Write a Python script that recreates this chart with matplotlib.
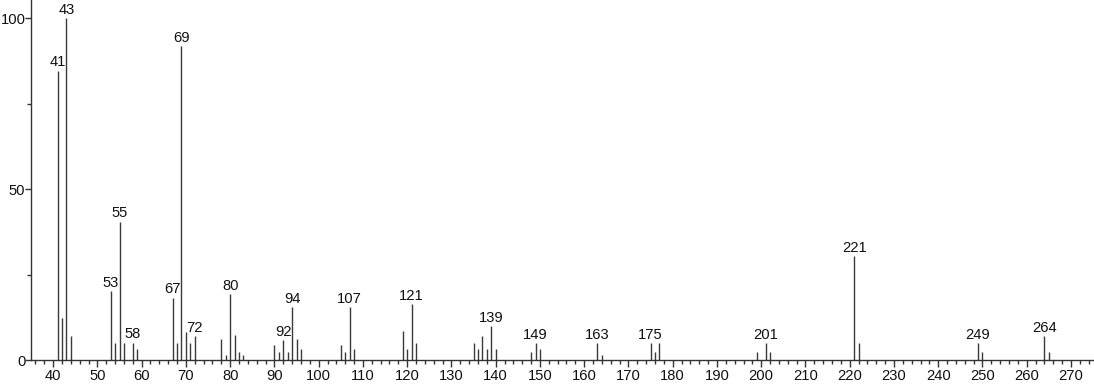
import matplotlib
matplotlib.use("Agg")
import matplotlib.pyplot as plt
from matplotlib.ticker import MultipleLocator

plt.rcParams['font.family'] = ['Liberation Sans', 'DejaVu Sans']

# m/z and relative intensity
mz = [41, 42, 43, 44, 53, 54, 55, 56, 58, 59, 67, 68, 69, 70, 71, 72,
      78, 79, 80, 81, 82, 83, 90, 91, 92, 93, 94, 95, 96,
      105, 106, 107, 108, 119, 120, 121, 122,
      135, 136, 137, 138, 139, 140, 148, 149, 150, 163, 164,
      175, 176, 177, 199, 201, 202, 221, 222, 249, 250, 264, 265]
intensity = [84.6, 12.2, 100.0, 7.0, 20.2, 5.1, 40.4, 5.1, 5.1, 3.2, 18.2, 5.1, 91.7, 8.3, 5.1, 7.0,
             6.0, 1.6, 19.3, 7.2, 2.3, 1.4, 4.3, 2.3, 5.8, 2.3, 15.5, 6.0, 3.2,
             4.3, 2.3, 15.4, 3.2, 8.4, 3.2, 16.4, 5.0,
             5.0, 3.2, 7.0, 3.2, 9.9, 3.2, 2.3, 4.9, 3.2, 4.9, 1.4,
             4.9, 2.3, 4.9, 2.3, 5.0, 2.3, 30.4, 5.0, 4.9, 2.3, 7.0, 2.3]
labelled = [41, 43, 53, 55, 58, 67, 69, 72, 80, 92, 94, 107, 121,
            139, 149, 163, 175, 201, 221, 249, 264]

fig = plt.figure(figsize=(10.94, 3.84), dpi=100)
ax = fig.add_axes([31/1094, 24/384, 1 - 31/1094, 1 - 24/384])

ax.vlines(mz, 0, intensity, colors='#3a3a3a', linewidth=1.0)
for m, h in zip(mz, intensity):
    if m in labelled:
        ax.annotate(str(m), (m, h), xytext=(0, 1), textcoords='offset points',
                    ha='center', va='bottom', fontsize=10.6, color='#111111')

ax.set_xlim(35, 275.2)
ax.set_ylim(0, 105.3)
ax.xaxis.set_major_locator(MultipleLocator(10))
ax.xaxis.set_minor_locator(MultipleLocator(2))
ax.set_yticks([0, 50, 100])
ax.set_yticks([25, 75], minor=True)
ax.spines['top'].set_visible(False)
ax.spines['right'].set_visible(False)
for s in ('left', 'bottom'):
    ax.spines[s].set_color('#333333')
    ax.spines[s].set_linewidth(1.0)
ax.tick_params(which='major', direction='out', length=5, width=1, labelsize=10.6, colors='#333333', labelcolor='#111111')
ax.tick_params(which='minor', direction='out', length=3, width=1, colors='#333333')
ax.tick_params(axis='x', pad=1.5)
ax.tick_params(axis='y', which='major', length=4, pad=0)

fig.savefig('out.png', dpi=100)
